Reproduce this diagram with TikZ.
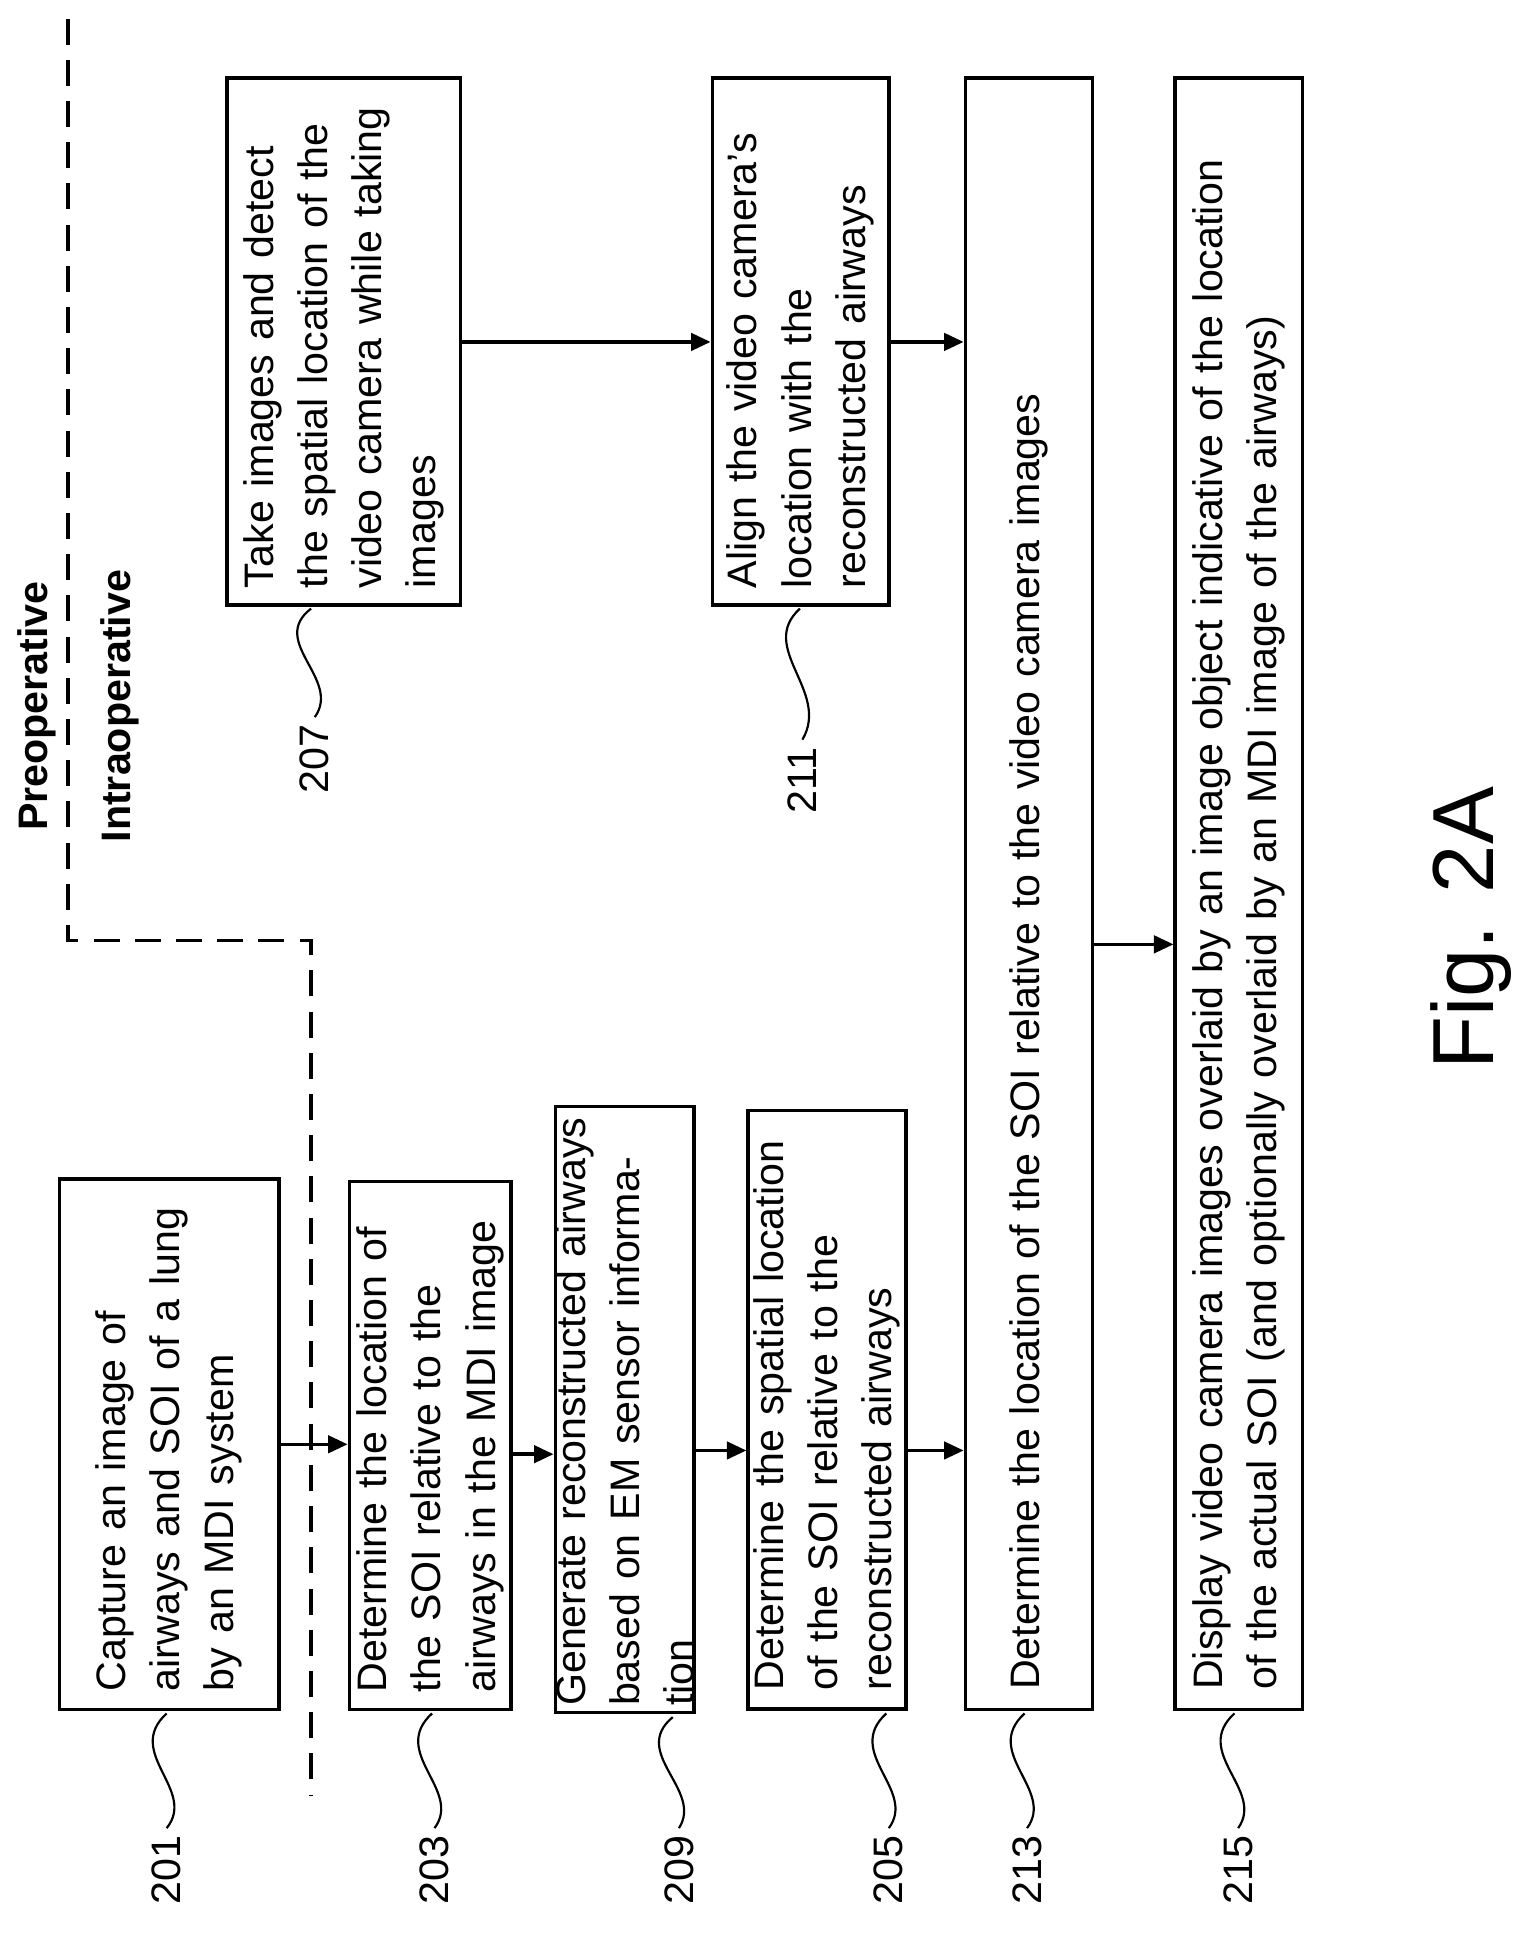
\documentclass[tikz,border=0pt]{standalone}
\usepackage{fontspec}
\setmainfont{Liberation Sans}
\usetikzlibrary{arrows.meta}
\tikzset{
  blk/.style={draw, line width=1.6pt, rotate=90, inner sep=0pt, align=left,
    font=\fontsize{19}{25}\selectfont},
  arr/.style={line width=1.6pt, -{Triangle[length=9pt,width=8pt]}},
  num/.style={rotate=90, font=\fontsize{19}{23}\selectfont},
  wig/.style={line width=1pt}
}
\begin{document}
\begin{tikzpicture}[x=0.02cm, y=0.02cm]
  \useasboundingbox (0,0) rectangle (1240,-1574);
  % phase separator
  \draw[line width=1.6pt, dash pattern=on 12pt off 7pt] (55,-15) -- (55,-762) -- (252,-762) -- (252,-1455);
  \node[num, font=\bfseries\fontsize{19}{23}\selectfont] (pre) at (30,-572) {Preoperative};
  \node[num, font=\bfseries\fontsize{19}{23}\selectfont] (intra) at (97,-572) {Intraoperative};

  % boxes
  \node[blk, minimum width=8.6cm, minimum height=3.56cm, text width=8cm] (n201) at (137,-1170)
    {Capture an image of\\airways and SOI of a lung\\by an MDI system};
  \node[blk, minimum width=8.56cm, minimum height=2.62cm, text width=8cm] (n203) at (348.5,-1171)
    {Determine the location of\\the SOI relative to the\\airways in the MDI image};
  \node[blk, minimum width=9.82cm, minimum height=2.16cm, text width=9.6cm] (n209) at (506,-1142)
    {Generate reconstructed airways\\based on EM sensor information};
  \node[blk, minimum width=9.7cm, minimum height=2.56cm, text width=9.1cm] (n205) at (670,-1142)
    {Determine the spatial location\\of the SOI relative to the\\reconstructed airways};
  \node[blk, minimum width=26.44cm, minimum height=2.06cm, text width=25.8cm] (n213) at (833.5,-724)
    {Determine the location of the SOI relative to the video camera images};
  \node[blk, minimum width=26.44cm, minimum height=2.06cm, text width=25.8cm] (n215) at (1003.5,-724)
    {Display video camera images overlaid by an image object indicative of the location\\of the actual SOI (and optionally overlaid by an MDI image of the airways)};
  \node[blk, minimum width=8.54cm, minimum height=3.78cm, text width=8cm] (n207) at (278.5,-276.5)
    {Take images and detect\\the spatial location of the\\video camera while taking\\images};
  \node[blk, minimum width=8.54cm, minimum height=2.86cm, text width=8cm] (n211) at (648.5,-276.5)
    {Align the video camera's\\location with the\\reconstructed airways};

  % flow
  \draw[arr] (n201.south |- 0,-1170) -- (n203.north |- 0,-1170);
  \draw[arr] (n203.south |- 0,-1178) -- (n209.north |- 0,-1178);
  \draw[arr] (n209.south |- 0,-1175) -- (n205.north |- 0,-1175);
  \draw[arr] (n205.south |- 0,-1175) -- (n213.north |- 0,-1175);
  \draw[arr] (n207.south |- 0,-277) -- (n211.north |- 0,-277);
  \draw[arr] (n211.south |- 0,-277) -- (n213.north |- 0,-277);
  \draw[arr] (n213.south |- 0,-765) -- (n215.north |- 0,-765);

  % reference numerals
  \node[num] (l201) at (135,-1515) {201};
  \node[num] (l203) at (352,-1515) {203};
  \node[num] (l209) at (550,-1515) {209};
  \node[num] (l205) at (720,-1515) {205};
  \node[num] (l213) at (832,-1515) {213};
  \node[num] (l215) at (1003,-1515) {215};
  \node[num] (l207) at (255,-615) {207};
  \node[num] (l211) at (650,-632) {211};
  \foreach \b/\l in {201/201,203/203,209/209,205/205,213/213,215/215,207/207,211/211}
    \draw[wig] (n\b.east |- l\l.east) ++(0,0) coordinate (s\b);
  \draw[wig] (135,-1388) .. controls (100,-1420) and (160,-1450) .. (l201.east);
  \draw[wig] (350,-1388) .. controls (315,-1420) and (375,-1450) .. (l203.east);
  \draw[wig] (545,-1391) .. controls (510,-1420) and (570,-1450) .. (l209.east);
  \draw[wig] (718,-1388) .. controls (683,-1420) and (743,-1450) .. (l205.east);
  \draw[wig] (830,-1388) .. controls (795,-1420) and (855,-1450) .. (l213.east);
  \draw[wig] (1000,-1388) .. controls (965,-1420) and (1025,-1450) .. (l215.east);
  \draw[wig] (252,-493) .. controls (217,-520) and (277,-550) .. (l207.east);
  \draw[wig] (648,-493) .. controls (613,-525) and (673,-560) .. (l211.east);

  \node[num, font=\fontsize{40}{44}\selectfont] (fig) at (1192,-752) {Fig. 2A};
\end{tikzpicture}
\end{document}
